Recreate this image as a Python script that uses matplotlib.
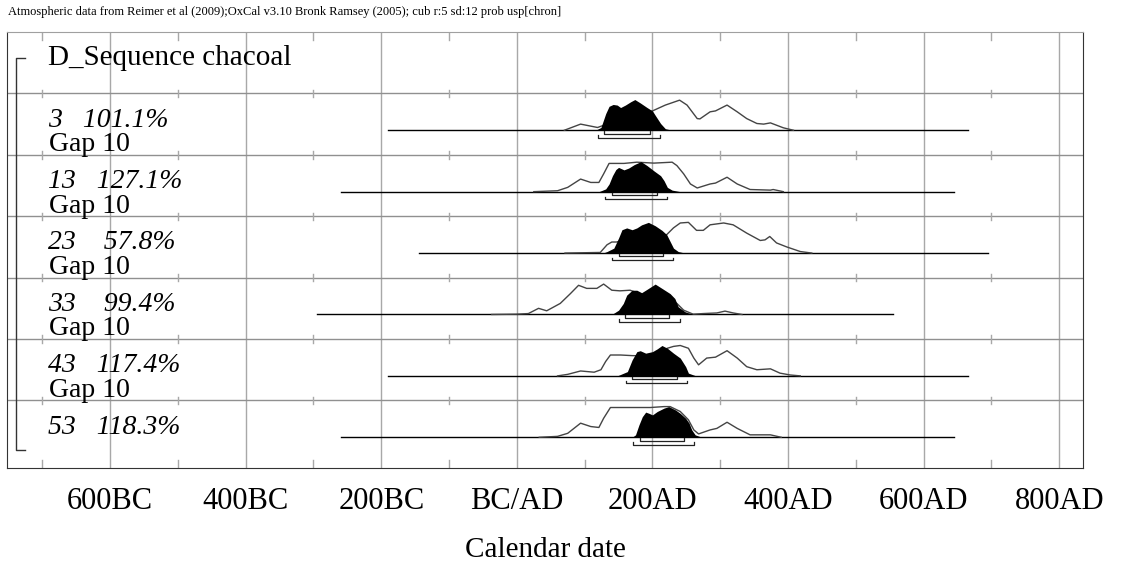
import matplotlib
matplotlib.use("Agg")
import matplotlib.pyplot as plt

# rows, top to bottom
names = ["3", "13", "23", "33", "43", "53"]
agreement = ["101.1%", "127.1%", "57.8%", "99.4%", "117.4%", "118.3%"]
gaps = ["Gap 10", "Gap 10", "Gap 10", "Gap 10", "Gap 10", ""]

# calc range of each row (years AD, negative = BC)
range_lo = [-190, -260, -145, -295, -190, -260]
range_hi = [665, 645, 695, 555, 665, 645]

# 68.2% and 95.4% ranges
hpd68 = [(129, 196), (141, 206), (150, 215), (160, 225), (170, 236), (181, 246)]
hpd95 = [(120, 211), (130, 221), (140, 231), (150, 240), (161, 251), (171, 261)]

# unmodelled (outline) distributions, relative probability
un3_x = [70, 94, 119, 158, 200, 219, 240, 251, 266, 270, 285, 293, 310, 325, 339, 354, 364, 374, 393, 408]
un3_p = [0, 0.20, 0.09, 0.40, 0.63, 0.82, 0.98, 0.82, 0.38, 0.37, 0.60, 0.63, 0.82, 0.60, 0.38, 0.22, 0.20, 0.24, 0.08, 0]
un13_x = [25, 60, 75, 94, 109, 121, 128, 136, 158, 177, 202, 229, 236, 246, 256, 266, 285, 293, 310, 325, 344, 374, 378, 393]
un13_p = [0, 0.03, 0.14, 0.41, 0.30, 0.30, 0.58, 0.92, 0.92, 0.96, 0.93, 0.96, 0.85, 0.58, 0.25, 0.12, 0.25, 0.28, 0.47, 0.25, 0.07, 0.05, 0.07, 0]
un23_x = [71, 123, 133, 140, 147, 182, 221, 231, 241, 253, 265, 275, 285, 305, 319, 339, 359, 366, 373, 383, 398, 418, 435]
un23_p = [0, 0.02, 0.27, 0.36, 0.36, 0.55, 0.60, 0.82, 0.98, 1.0, 0.74, 0.74, 0.92, 0.98, 0.92, 0.65, 0.41, 0.43, 0.54, 0.33, 0.20, 0.05, 0]
un33_x = [-37, 0, 17, 32, 44, 64, 79, 91, 103, 118, 128, 140, 152, 167, 184, 210, 226, 236, 246, 260, 275, 295, 307, 319, 332]
un33_p = [0, 0.01, 0.03, 0.20, 0.12, 0.36, 0.68, 0.95, 0.85, 0.85, 0.99, 0.79, 0.77, 0.79, 0.65, 0.60, 0.50, 0.36, 0.14, 0.01, 0.03, 0.05, 0.11, 0.05, 0]
un43_x = [60, 75, 94, 114, 124, 131, 138, 153, 170, 196, 207, 214, 222, 231, 241, 253, 261, 268, 280, 293, 310, 325, 339, 354, 374, 388, 403, 418]
un43_p = [0, 0.05, 0.16, 0.12, 0.20, 0.47, 0.68, 0.68, 0.66, 0.65, 0.75, 0.82, 0.90, 0.96, 0.99, 0.90, 0.58, 0.36, 0.58, 0.61, 0.82, 0.58, 0.30, 0.20, 0.23, 0.09, 0.03, 0]
un53_x = [33, 60, 75, 94, 109, 121, 128, 138, 158, 182, 197, 217, 226, 241, 253, 261, 268, 285, 295, 310, 325, 344, 374, 390]
un53_p = [0, 0.03, 0.13, 0.46, 0.35, 0.32, 0.62, 0.97, 0.97, 0.97, 0.97, 1.0, 1.0, 0.84, 0.57, 0.24, 0.11, 0.24, 0.29, 0.49, 0.29, 0.08, 0.08, 0]

# modelled (filled) distributions
po3_x = [116, 124, 131, 136, 142, 148, 153, 160, 168, 174, 182, 192, 200, 204, 212, 219, 229]
po3_p = [0, 0.09, 0.54, 0.78, 0.84, 0.82, 0.74, 0.82, 0.93, 1.0, 0.89, 0.74, 0.63, 0.49, 0.22, 0.05, 0]
po13_x = [121, 131, 136, 141, 146, 150, 158, 165, 173, 183, 192, 202, 212, 217, 222, 229, 241]
po13_p = [0, 0.09, 0.25, 0.52, 0.72, 0.79, 0.71, 0.77, 0.88, 0.98, 0.85, 0.68, 0.52, 0.36, 0.14, 0.05, 0]
po23_x = [127, 133, 143, 150, 155, 162, 170, 177, 184, 194, 204, 214, 221, 226, 231, 238, 248]
po23_p = [0, 0.05, 0.16, 0.49, 0.76, 0.82, 0.76, 0.82, 0.92, 1.0, 0.89, 0.74, 0.60, 0.38, 0.16, 0.05, 0]
po33_x = [140, 150, 157, 162, 170, 177, 184, 192, 204, 214, 226, 233, 238, 248, 260]
po33_p = [0, 0.14, 0.36, 0.63, 0.79, 0.79, 0.71, 0.82, 0.99, 0.85, 0.68, 0.52, 0.25, 0.09, 0]
po43_x = [148, 163, 170, 177, 182, 190, 200, 207, 214, 222, 231, 241, 249, 253, 263, 275]
po43_p = [0, 0.14, 0.52, 0.79, 0.82, 0.74, 0.79, 0.88, 0.99, 0.90, 0.74, 0.58, 0.30, 0.09, 0.01, 0]
po53_x = [170, 175, 180, 185, 190, 195, 200, 207, 217, 224, 234, 241, 249, 254, 258, 263, 273]
po53_p = [0, 0.08, 0.40, 0.67, 0.82, 0.78, 0.73, 0.84, 0.95, 1.0, 0.89, 0.78, 0.62, 0.46, 0.24, 0.08, 0]

unmod = [(un3_x, un3_p), (un13_x, un13_p), (un23_x, un23_p),
         (un33_x, un33_p), (un43_x, un43_p), (un53_x, un53_p)]
post = [(po3_x, po3_p), (po13_x, po13_p), (po23_x, po23_p),
        (po33_x, po33_p), (po43_x, po43_p), (po53_x, po53_p)]

grid_years = [-600, -400, -200, 0, 200, 400, 600, 800]
tick_labels = ["600BC", "400BC", "200BC", "BC/AD", "200AD", "400AD", "600AD", "800AD"]
minor_years = [-700, -500, -300, -100, 100, 300, 500, 700]

SERIF = "Liberation Serif"
H = 0.5  # row units per unit of relative probability

fig = plt.figure(figsize=(11.23, 5.65), dpi=100)
ax = fig.add_axes([7 / 1123, 1 - 468 / 565, 1076 / 1123, 436 / 565])
ax.set_xlim(-752, 835)
ax.set_ylim(-0.5, 6.6)

fig.text(8 / 1123, 1 - 12 / 565,
         "Atmospheric data from Reimer et al (2009);OxCal v3.10 Bronk Ramsey (2005); cub r:5 sd:12 prob usp[chron]",
         fontsize=9, family=SERIF, va="center", ha="left")

# grid
for g in grid_years:
    ax.axvline(g, color="#a8a8a8", lw=1, zorder=0)
seps = [k + 0.6 for k in range(6)]
for s in seps:
    ax.axhline(s, color="#909090", lw=1, zorder=0)
for m in minor_years:
    for s in seps:
        ax.plot([m, m], [s - 0.06, s + 0.06], color="#a8a8a8", lw=1, zorder=0)
    ax.plot([m, m], [6.6, 6.47], color="#a8a8a8", lw=1, zorder=0)
    ax.plot([m, m], [-0.5, -0.37], color="#a8a8a8", lw=1, zorder=0)

# bracket for the sequence
ax.plot([-725, -738, -738, -725], [6.18, 6.18, -0.21, -0.21], color="#333333", lw=1)
ax.text(-692, 6.06, "D_Sequence chacoal", fontsize=21, family=SERIF, va="baseline")

for i in range(6):
    base = 5 - i
    pad = "   " + " " * (6 - len(agreement[i]))
    ax.text(-692, base + 0.06, names[i] + pad + agreement[i],
            fontsize=20, family=SERIF, style="italic", va="baseline")
    if gaps[i]:
        ax.text(-690, base - 0.34, gaps[i], fontsize=20, family=SERIF, va="baseline")
    ax.plot([range_lo[i], range_hi[i]], [base, base], color="black", lw=1, zorder=2)
    ux, up = unmod[i]
    ax.plot(ux, [base + p * H for p in up], color="#444444", lw=1, zorder=3)
    px, pp = post[i]
    ax.fill_between(px, base, [base + p * H for p in pp], color="black", lw=0, zorder=4)
    for (lo, hi), dy in ((hpd68[i], 0.055), (hpd95[i], 0.12)):
        y = base - dy
        ax.plot([lo, lo, hi, hi], [y + 0.04, y, y, y + 0.04], color="#222222", lw=0.9, zorder=3)

ax.set_yticks([])
ax.set_xticks(grid_years, labels=tick_labels)
ax.tick_params(axis="x", length=0, pad=14, labelsize=22)
for lab in ax.get_xticklabels():
    lab.set_family(SERIF)
ax.set_xlabel("Calendar date", fontsize=21, family=SERIF, labelpad=15)
for side in ["left", "bottom", "right"]:
    ax.spines[side].set_color("#333333")
ax.spines["top"].set_color("#a0a0a0")

fig.savefig("out.png", dpi=100)
